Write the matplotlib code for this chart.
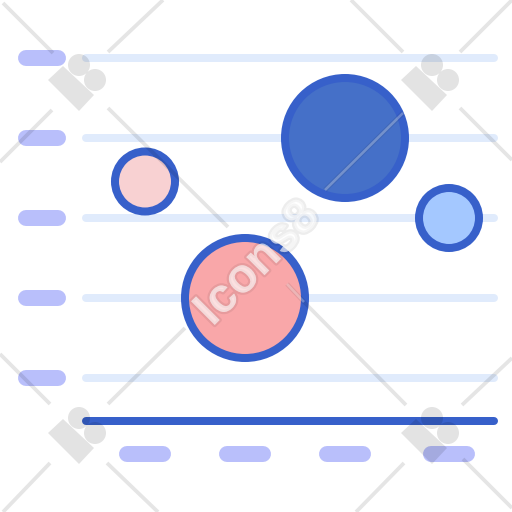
#!/usr/bin/env python3

import matplotlib
matplotlib.use("Agg")
import matplotlib.pyplot as plt
import matplotlib.patheffects as pe
from matplotlib.patches import Circle, Polygon

# =============================================================
# DATA
# =============================================================

row_y = [58, 138, 218, 298, 378]
col_x = [145, 245, 345, 449]

bubble_x = [345, 245, 145, 449]
bubble_y = [138, 298, 181.5, 218]
bubble_r = [60, 60, 30, 30]
bubble_colors = ["#4570C8", "#F9A7A9", "#F8D1D2", "#A4C8FF"]

mark_text = "Icons8"
logo_dx = [0, 353, 0, 353]
logo_dy = [0, 0, 353, 353]

mark_lines = [
    ((3, 3), (53, 53)), ((108, 52), (163, 0)), ((52, 110), (0, 162)),
    ((108, 108), (228, 227)), ((185, 328), (108, 404)),
    ((403, 52), (351, 0)), ((460, 52), (512, 0)), ((460, 108), (512, 160)),
    ((0, 354), (50, 404)), ((50, 463), (3, 512)), ((107, 463), (158, 512)),
    ((304, 302), (406, 405)), ((462, 405), (512, 358)), ((404, 463), (356, 512)),
    ((463, 459), (512, 508)),
]

# parts of the watermark lines that lie over the big bubbles
mark_lit = [((403, 113), (325, 190)), ((287, 284), (304, 302))]

# =============================================================
# PLOT
# =============================================================

PX = 0.72  # one pixel in points at dpi 100
BLUE = "#3760CA"

fig = plt.figure(figsize=(5.12, 5.12), dpi=100)
ax = fig.add_axes([0, 0, 1, 1])
ax.set_xlim(0, 512)
ax.set_ylim(512, 0)
ax.axis("off")

# Grid rows and their label pills
for y in row_y:
    ax.plot([86, 494], [y, y], color="#E0EBFC", lw=8 * PX,
            solid_capstyle="round", zorder=1)
    ax.plot([26, 58], [y, y], color="#B9BFFB", lw=16 * PX,
            solid_capstyle="round", zorder=1)

# Baseline and column label pills
ax.plot([86, 494], [421, 421], color=BLUE, lw=8 * PX,
        solid_capstyle="round", zorder=2)
for x in col_x:
    ax.plot([x - 18, x + 18], [454, 454], color="#B9BFFB", lw=16 * PX,
            solid_capstyle="round", zorder=1)

# Bubbles
for x, y, r, c in zip(bubble_x, bubble_y, bubble_r, bubble_colors):
    ax.add_patch(Circle((x, y), r, facecolor=c, edgecolor=BLUE,
                        lw=8 * PX, zorder=3))

# Watermark
for a, b in mark_lines:
    ax.plot([a[0], b[0]], [a[1], b[1]], color="black", alpha=0.1,
            lw=3.8 * PX, solid_capstyle="butt", zorder=5)

for a, b in mark_lit:
    ax.plot([a[0], b[0]], [a[1], b[1]], color="black", alpha=0.08,
            lw=4.6 * PX, solid_capstyle="butt", zorder=5)
    ax.plot([a[0], b[0]], [a[1], b[1]], color="white", alpha=0.28,
            lw=2.6 * PX, solid_capstyle="butt", zorder=5)

for dx, dy in zip(logo_dx, logo_dy):
    corners = [(48 + dx, 80 + dy), (63 + dx, 66 + dy),
               (94 + dx, 95 + dy), (79 + dx, 111 + dy)]
    ax.add_patch(Polygon(corners, closed=True, facecolor="black",
                         edgecolor="none", alpha=0.11, zorder=5))
    ax.add_patch(Circle((79 + dx, 65 + dy), 11, facecolor="black",
                        edgecolor="none", alpha=0.11, zorder=5))
    ax.add_patch(Circle((95 + dx, 80 + dy), 11, facecolor="black",
                        edgecolor="none", alpha=0.11, zorder=5))

ax.text(258, 264, mark_text, rotation=45, rotation_mode="anchor",
        ha="center", va="center", fontsize=35, fontweight="bold",
        family="Liberation Sans", color=(1, 1, 1, 0.3), zorder=6,
        path_effects=[pe.withStroke(linewidth=3.2, foreground=(0, 0, 0, 0.07)),
                      pe.Normal()])

fig.savefig("out.png", dpi=100)
